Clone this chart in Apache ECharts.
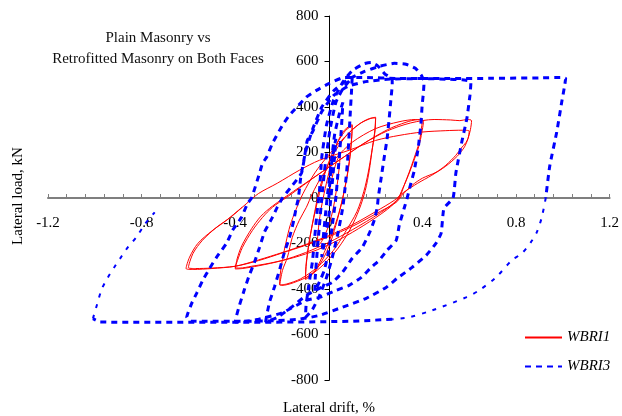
<!DOCTYPE html>
<html>
<head>
<meta charset="utf-8">
<script src="https://cdn.jsdelivr.net/npm/echarts@6/dist/echarts.min.js"></script>
<style>
  html, body { margin: 0; padding: 0; background: #fff; }
  #chart { width: 622px; height: 416px; }
</style>
</head>
<body>
<div id="chart"></div>
<script>
// x ticks (drift, %) and y ticks (load, kN)
var driftTicks = [-1.2, -0.8, -0.4, 0, 0.4, 0.8, 1.2]
var loadTicks = [-800, -600, -400, -200, 0, 200, 400, 600, 800]

// WBRI1 (plain masonry) - [drift %, load kN]
var wbri1Cyc1 = [[0,0],[0.01,70],[0.03,150],[0.05,200],[0.046,150],[0.036,60],[0.02,-40],[0,-120],[-0.03,-190],[-0.05,-215],[-0.046,-150],[-0.035,-60],[-0.02,20]]
var wbri1Cyc2 = [[0,110],[0.03,225],[0.06,290],[0.09,318],[0.1,322],[0.098,270],[0.09,180],[0.075,80],[0.055,-20],[0.03,-120],[0,-215],[-0.04,-295],[-0.08,-345],[-0.1,-358],[-0.097,-300],[-0.085,-200],[-0.065,-90],[-0.04,20],[-0.01,130],[0.03,230],[0.07,295],[0.1,318],[0.097,255],[0.088,160],[0.072,60],[0.05,-40],[0.02,-140],[-0.02,-240],[-0.06,-320],[-0.1,-352],[-0.096,-280],[-0.08,-170],[-0.06,-60]]
var wbri1Cyc3 = [[-0.04,40],[-0.01,130],[0.03,210],[0.08,280],[0.13,325],[0.17,348],[0.2,355],[0.198,300],[0.185,210],[0.173,122],[0.156,34],[0.13,-50],[0.09,-140],[0.04,-220],[-0.02,-290],[-0.08,-340],[-0.15,-372],[-0.2,-384],[-0.21,-380],[-0.207,-330],[-0.198,-270],[-0.183,-195],[-0.165,-120],[-0.14,-50],[-0.11,20],[-0.06,110],[0,190],[0.07,270],[0.13,325],[0.18,350],[0.2,352],[0.196,290],[0.183,200],[0.168,110],[0.15,30],[0.12,-60],[0.07,-150],[0.02,-230],[-0.05,-305],[-0.12,-355],[-0.18,-378],[-0.21,-382],[-0.198,-318],[-0.177,-261],[-0.156,-173],[-0.126,-98],[-0.096,-41],[-0.07,20]]
var wbri1Cyc4 = [[-0.03,95],[0.03,175],[0.1,245],[0.2,305],[0.3,335],[0.37,345],[0.4,343],[0.395,300],[0.386,244],[0.364,174],[0.343,112],[0.322,56],[0.3,0],[0.25,-50],[0.15,-120],[0.05,-180],[-0.05,-228],[-0.15,-262],[-0.25,-286],[-0.33,-300],[-0.38,-308],[-0.4,-306],[-0.39,-274],[-0.369,-217],[-0.326,-142],[-0.283,-85],[-0.241,-41],[-0.18,3],[-0.126,43],[-0.05,100],[0.05,170],[0.15,240],[0.25,300],[0.33,333],[0.38,344],[0.405,340],[0.398,290],[0.384,225],[0.362,160],[0.34,100],[0.315,40],[0.29,-10],[0.22,-65],[0.1,-140],[0,-195],[-0.1,-240],[-0.2,-275],[-0.3,-298],[-0.37,-310],[-0.4,-312],[-0.392,-268],[-0.372,-210],[-0.33,-135],[-0.29,-80],[-0.24,-35]]
var wbri1Cyc5 = [[-0.15,30],[-0.05,100],[0.05,170],[0.15,240],[0.25,295],[0.35,330],[0.45,345],[0.52,343],[0.56,340],[0.59,345],[0.61,340],[0.605,300],[0.595,262],[0.586,244],[0.565,218],[0.543,188],[0.5,144],[0.458,113],[0.4,87],[0.356,56],[0.313,12],[0.288,-19],[0.2,-70],[0.1,-125],[0,-170],[-0.1,-208],[-0.2,-242],[-0.3,-275],[-0.4,-300],[-0.5,-308],[-0.57,-310],[-0.6,-306],[-0.58,-243],[-0.54,-186],[-0.48,-129],[-0.42,-85],[-0.35,-23],[-0.3,20],[-0.22,65],[-0.126,122],[-0.04,166],[0.087,210],[0.2,253],[0.3,275],[0.4,290],[0.5,296],[0.57,298],[0.6,294],[0.595,262],[0.58,225],[0.55,185],[0.5,140],[0.44,100],[0.38,65],[0.32,25],[0.28,-10],[0.2,-60],[0.1,-118],[0,-165],[-0.1,-205],[-0.2,-240],[-0.3,-272],[-0.4,-300],[-0.5,-310],[-0.58,-314],[-0.61,-310],[-0.595,-260],[-0.56,-200],[-0.5,-145],[-0.44,-100],[-0.37,-40]]

// WBRI3 (retrofitted on both faces)
var wbri3Cyc1 = [[0,0],[0.005,80],[0.015,180],[0.03,260],[0.026,200],[0.016,80],[0.005,-40],[-0.01,-150],[-0.025,-230],[-0.03,-260],[-0.026,-200],[-0.016,-90],[-0.005,20]]
var wbri3Cyc2 = [[0.01,150],[0.025,280],[0.045,370],[0.06,420],[0.057,360],[0.05,250],[0.04,120],[0.03,0],[0.015,-120],[0,-230],[-0.02,-320],[-0.045,-380],[-0.06,-410],[-0.058,-350],[-0.05,-240],[-0.04,-120],[-0.03,0]]
var wbri3Cyc3 = [[-0.015,150],[0.005,300],[0.03,420],[0.06,480],[0.1,530],[0.097,470],[0.092,380],[0.087,284],[0.08,160],[0.07,50],[0.06,-40],[0.04,-150],[0.015,-260],[-0.01,-350],[-0.04,-430],[-0.07,-490],[-0.1,-525],[-0.097,-470],[-0.085,-380],[-0.07,-280],[-0.06,-170],[-0.05,-60],[-0.04,30]]
var wbri3Cyc4 = [[-0.03,180],[-0.01,320],[0.02,430],[0.06,510],[0.1,560],[0.15,590],[0.18,596],[0.21,580],[0.24,545],[0.27,525],[0.271,500],[0.266,440],[0.258,350],[0.249,260],[0.237,180],[0.224,90],[0.211,0],[0.207,-41],[0.194,-98],[0.173,-155],[0.143,-217],[0.1,-265],[0.058,-327],[0.015,-371],[-0.04,-397],[-0.096,-428],[-0.16,-480],[-0.22,-525],[-0.27,-545],[-0.266,-520],[-0.254,-460],[-0.232,-390],[-0.211,-318],[-0.19,-240],[-0.168,-173],[-0.15,-100],[-0.139,-40],[-0.13,0]]
var wbri3Cyc5 = [[-0.12,90],[-0.1,200],[-0.07,300],[-0.03,400],[0.02,470],[0.08,520],[0.15,555],[0.22,580],[0.28,592],[0.33,588],[0.37,570],[0.395,540],[0.407,510],[0.404,460],[0.399,410],[0.394,330],[0.382,220],[0.365,120],[0.347,50],[0.335,0],[0.322,-45],[0.301,-120],[0.288,-186],[0.249,-230],[0.215,-274],[0.181,-305],[0.139,-349],[0.087,-384],[0.032,-406],[-0.04,-437],[-0.096,-450],[-0.2,-505],[-0.3,-533],[-0.36,-542],[-0.4,-545],[-0.394,-516],[-0.382,-472],[-0.36,-400],[-0.34,-340],[-0.318,-283],[-0.296,-217],[-0.275,-150],[-0.241,-85],[-0.22,-40],[-0.198,0]]
var wbri3Cyc6 = [[-0.16,50],[-0.117,109],[-0.104,179],[-0.092,253],[-0.07,290],[-0.03,380],[0.02,450],[0.08,490],[0.15,510],[0.25,522],[0.4,525],[0.5,522],[0.57,520],[0.6,515],[0.607,504],[0.603,450],[0.59,350],[0.569,250],[0.543,110],[0.531,0],[0.492,-45],[0.48,-155],[0.458,-199],[0.416,-252],[0.356,-305],[0.292,-353],[0.245,-393],[0.16,-441],[0.058,-480],[-0.04,-516],[-0.126,-533],[-0.25,-540],[-0.4,-542],[-0.52,-542],[-0.59,-540],[-0.607,-524],[-0.586,-463],[-0.565,-419],[-0.539,-362],[-0.509,-309],[-0.48,-261],[-0.437,-199],[-0.411,-142],[-0.373,-85],[-0.347,-23],[-0.33,0]]
var wbri3Cyc7 = [[-0.296,109],[-0.283,153],[-0.266,179],[-0.241,240],[-0.198,320],[-0.168,364],[-0.096,443],[-0.053,473],[0.002,504],[0.066,530],[0.15,530],[0.3,525],[0.5,525],[0.7,526],[0.9,528],[0.99,530],[1.012,526],[1.008,495],[0.995,420],[0.974,290],[0.944,140],[0.927,0]]
// last part of the big cycle is drawn with a thinner dash in the original
var wbri3Tail = [[0.927,0],[0.91,-85],[0.889,-150],[0.863,-195],[0.825,-243],[0.782,-274],[0.714,-349],[0.642,-406],[0.586,-437],[0.441,-494],[0.343,-524],[0.271,-533]]
var wbri3Bottom = [[0.271,-533],[0.1,-542],[-0.1,-545],[-0.3,-546],[-0.5,-546],[-0.7,-546],[-0.9,-546],[-0.98,-545],[-1.008,-530]]
var wbri3End = [[-1.008,-530],[-0.991,-470],[-0.97,-400],[-0.944,-349],[-0.914,-300],[-0.884,-254],[-0.859,-217],[-0.821,-170],[-0.786,-115],[-0.744,-63]]

var wbri1 = [].concat(wbri1Cyc1, wbri1Cyc2, wbri1Cyc3, wbri1Cyc4, wbri1Cyc5)
var wbri3 = [].concat(wbri3Cyc1, wbri3Cyc2, wbri3Cyc3, wbri3Cyc4, wbri3Cyc5, wbri3Cyc6, wbri3Cyc7)

var serif = 'Liberation Serif'
var myChart = echarts.init(document.getElementById('chart'))

// grid: 48..611 by 16..380, axes cross in the middle
var gridLeft = 48, gridRight = 11, gridTop = 16, gridBottom = 36
var plotW = 622 - gridLeft - gridRight
var plotH = 416 - gridTop - gridBottom

var option = {
  animation: false,
  backgroundColor: '#fff',
  title: {
    text: 'Plain Masonry vs\nRetrofitted Masonry on Both Faces',
    left: 153,
    top: 23,
    textAlign: 'center',
    textStyle: { fontFamily: serif, fontSize: 15, fontWeight: 'normal', color: '#111', lineHeight: 21 }
  },
  legend: {
    orient: 'vertical',
    left: 519,
    top: 325,
    itemWidth: 37,
    itemHeight: 10,
    itemGap: 14,
    itemStyle: { color: 'rgba(0,0,0,0)', borderWidth: 0 },
    textStyle: { fontFamily: serif, fontStyle: 'italic', fontSize: 15, color: '#000' },
    data: ['WBRI1', 'WBRI3']
  },
  grid: { left: gridLeft, right: gridRight, top: gridTop, bottom: gridBottom },
  xAxis: {
    type: 'value',
    min: driftTicks[0],
    max: driftTicks[driftTicks.length - 1],
    interval: 0.4,
    position: 'bottom',
    offset: -plotH / 2,
    axisLine: { onZero: false, lineStyle: { color: '#7f7f7f', width: 2 } },
    axisTick: { inside: true, length: 4, lineStyle: { color: '#7f7f7f' } },
    minorTick: { show: true, splitNumber: 5, length: 4, lineStyle: { color: '#7f7f7f' } },
    axisLabel: {
      margin: 18,
      fontFamily: serif, fontSize: 15, color: '#000',
      formatter: function (v) { return Math.round(v * 10) / 10 + '' }
    },
    splitLine: { show: false }
  },
  yAxis: {
    type: 'value',
    min: loadTicks[0],
    max: loadTicks[loadTicks.length - 1],
    interval: 200,
    position: 'left',
    offset: -plotW / 2,
    axisLine: { onZero: false, lineStyle: { color: '#000', width: 1 } },
    axisTick: { length: 5, lineStyle: { color: '#000' } },
    axisLabel: { margin: 11, fontFamily: serif, fontSize: 15, color: '#000' },
    splitLine: { show: false }
  },
  graphic: [
    {
      type: 'text', x: 18, y: 196, rotation: Math.PI / 2,
      style: { text: 'Lateral load, kN', fontFamily: serif, fontSize: 15, fill: '#000', textAlign: 'center', textVerticalAlign: 'middle' }
    },
    {
      type: 'text', x: 329, y: 408,
      style: { text: 'Lateral drift, %', fontFamily: serif, fontSize: 15, fill: '#000', textAlign: 'center', textVerticalAlign: 'middle' }
    }
  ],
  series: [
    {
      name: 'WBRI1',
      type: 'line',
      data: wbri1,
      symbol: 'none',
      smooth: 0.3,
      lineStyle: { color: '#ff0000', width: 1 },
      itemStyle: { color: '#ff0000' }
    },
    {
      name: 'WBRI3',
      type: 'line',
      data: wbri3,
      symbol: 'none',
      smooth: 0.15,
      lineStyle: { color: '#0000ff', width: 3, type: [6, 5] },
      itemStyle: { color: '#0000ff' }
    },
    {
      name: 'WBRI3',
      type: 'line',
      data: wbri3Tail,
      symbol: 'none',
      smooth: 0.3,
      lineStyle: { color: '#0000ff', width: 2, type: [4, 7] },
      itemStyle: { color: '#0000ff' }
    },
    {
      name: 'WBRI3',
      type: 'line',
      data: wbri3Bottom,
      symbol: 'none',
      lineStyle: { color: '#0000ff', width: 3, type: [6, 5] },
      itemStyle: { color: '#0000ff' }
    },
    {
      name: 'WBRI3',
      type: 'line',
      data: wbri3End,
      symbol: 'none',
      smooth: 0.3,
      lineStyle: { color: '#0000ff', width: 2, type: [4, 7] },
      itemStyle: { color: '#0000ff' }
    }
  ]
}

myChart.setOption(option)
</script>
</body>
</html>
